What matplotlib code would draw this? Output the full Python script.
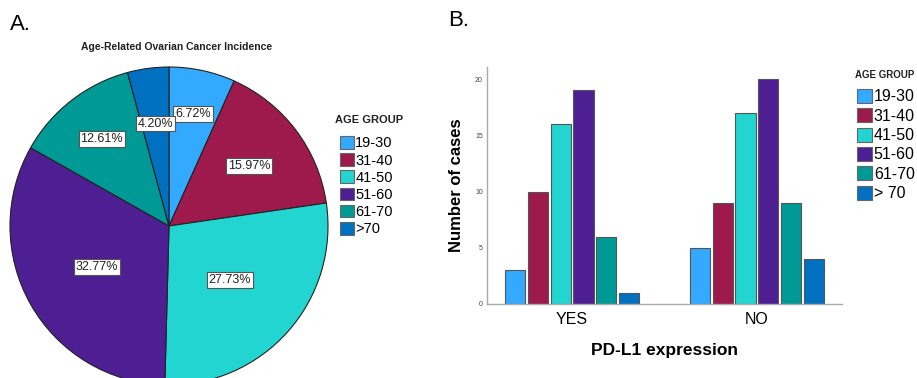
import matplotlib.pyplot as plt
from matplotlib.patches import Patch
import numpy as np

plt.rcParams['font.family'] = ['Liberation Sans', 'DejaVu Sans']

# data
age_groups = ["19-30", "31-40", "41-50", "51-60", "61-70", ">70"]
age_groups_b = ["19-30", "31-40", "41-50", "51-60", "61-70", "> 70"]
pie_pct = [6.72, 15.97, 27.73, 32.77, 12.61, 4.20]
pdl1 = ["YES", "NO"]
cases_yes = [3, 10, 16, 19, 6, 1]
cases_no = [5, 9, 17, 20, 9, 4]
colors = ["#33aaff", "#9e1a4c", "#22d5d0", "#4e1e93", "#009a96", "#0070c0"]

W, H = 917, 378
fig = plt.figure(figsize=(W / 100, H / 100), dpi=100)

# ---- A. pie ----
cx, cy, R = 169, 226, 159
axA = fig.add_axes([(cx - R) / W, (H - cy - R) / H, 2 * R / W, 2 * R / H])
wedges, _ = axA.pie(pie_pct, colors=colors, startangle=90, counterclock=False,
                    wedgeprops=dict(edgecolor="#222222", linewidth=0.8))
axA.set_xlim(-1, 1)
axA.set_ylim(-1, 1)
axA.set_aspect("equal")
for w in wedges:
    w.set_clip_on(False)

# label distance per wedge (fraction of radius)
label_r = [0.72, 0.63, 0.51, 0.52, 0.69, 0.65]
for w, p, d in zip(wedges, pie_pct, label_r):
    ang = np.deg2rad((w.theta1 + w.theta2) / 2)
    axA.text(d * np.cos(ang), d * np.sin(ang), "%.2f%%" % p, ha="center", va="center",
             fontsize=9, color="#222222",
             bbox=dict(boxstyle="square,pad=0.15", fc="white", ec="#555555", lw=0.8))

fig.text(177 / W, 1 - 47 / H, "Age-Related Ovarian Cancer Incidence", ha="center", va="center",
         fontsize=7.5, fontweight="bold", color="#222222")
fig.text(10 / W, 1 - 24 / H, "A.", ha="left", va="center", fontsize=16)

handles = [Patch(facecolor=c, edgecolor="#666666", linewidth=0.8) for c in colors]
fig.text(335 / W, 1 - 120 / H, "AGE GROUP", ha="left", va="center",
         fontsize=8, fontweight="bold", color="#222222")
fig.legend(handles, age_groups, loc="upper left", bbox_to_anchor=(340 / W, 1 - 136 / H),
           frameon=False, fontsize=10.5, handlelength=0.95, handleheight=0.95,
           handletextpad=0.1, labelspacing=0.2, borderaxespad=0, borderpad=0)

# ---- B. bars ----
axB = fig.add_axes([487 / W, 74 / H, 355 / W, 237 / H])
x = np.arange(len(pdl1))
bw = 0.11
pitch = 0.123
for i, c in enumerate(colors):
    vals = [cases_yes[i], cases_no[i]]
    axB.bar(x + (i - 2.5) * pitch, vals, width=bw, color=c, edgecolor="#555555", linewidth=0.8)
axB.set_xlim(-0.46, 1.46)
axB.set_ylim(0, 21.07)
axB.set_yticks([0, 5, 10, 15, 20])
axB.set_xticks(x)
axB.set_xticklabels(pdl1, fontsize=11.5)
axB.tick_params(axis="y", length=0, labelsize=5, pad=3, labelcolor="#444444")
axB.tick_params(axis="x", length=0, pad=6)
for s in ["top", "right"]:
    axB.spines[s].set_visible(False)
for s in ["left", "bottom"]:
    axB.spines[s].set_color("#aaaaaa")
    axB.spines[s].set_linewidth(1)
axB.set_ylabel("Number of cases", fontsize=12, fontweight="bold", labelpad=8)
axB.set_xlabel("PD-L1 expression", fontsize=12.5, fontweight="bold", labelpad=11)
fig.text(448 / W, 1 - 20 / H, "B.", ha="left", va="center", fontsize=16)

fig.text(855 / W, 1 - 75 / H, "AGE GROUP", ha="left", va="center",
         fontsize=7, fontweight="bold", color="#222222")
fig.legend(handles, age_groups_b, loc="upper left", bbox_to_anchor=(857 / W, 1 - 89 / H),
           frameon=False, fontsize=11.5, handlelength=0.95, handleheight=0.95,
           handletextpad=0.1, labelspacing=0.25, borderaxespad=0, borderpad=0)

fig.savefig("out.png", dpi=100)
